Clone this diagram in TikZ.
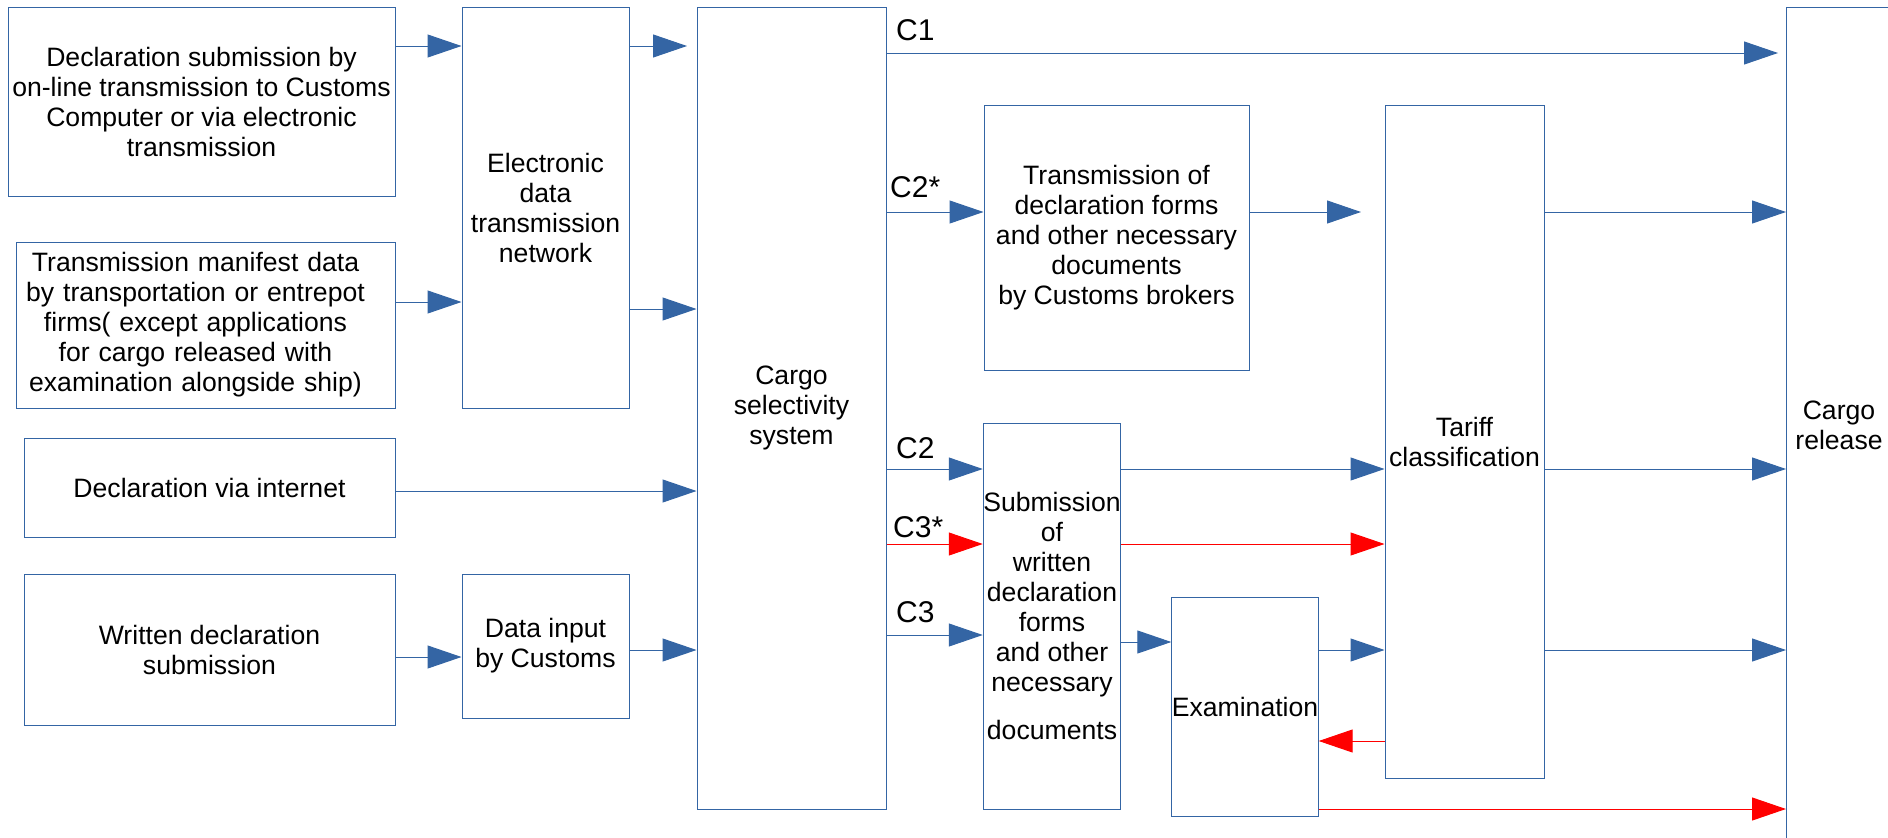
\documentclass[tikz,border=0pt]{standalone}
\usepackage{fontspec}
\setmainfont{Liberation Sans}
\usetikzlibrary{arrows.meta}
\definecolor{lblue}{HTML}{3465A4}
\definecolor{lred}{HTML}{FF0000}
\begin{document}
\begin{tikzpicture}[x=1pt,y=-1pt,
  txt/.style={inner sep=0pt, align=center, font=\fontsize{26.6}{30}\selectfont},
  box/.style={txt, draw=lblue, line width=1pt, rectangle},
  conn/.style={draw=lblue, line width=1pt, -{Triangle[length=34pt,width=23pt]}},
  rconn/.style={draw=lred, line width=1pt, -{Triangle[length=34pt,width=23pt]}},
  lbl/.style={font=\fontsize{30}{34}\selectfont, inner sep=0pt, anchor=west}]
\useasboundingbox (0,0) rectangle (1888,838);
\clip (0,0) rectangle (1888,838);
\fill[white] (0,0) rectangle (1888,838);

\node[box, minimum width=387pt, minimum height=189pt] (b1) at (201.5,101.5)
  {Declaration submission by\\on-line transmission to Customs\\Computer or via electronic\\transmission};
\node[box, minimum width=379pt, minimum height=166pt, text width=359pt, inner xsep=0pt] (b2) at (205.5,325)
  {\hspace*{-20pt}\begin{tabular}{@{}c@{}}Transmission manifest data\\by transportation or entrepot\\firms( except applications\\for cargo released with\\examination alongside ship)\end{tabular}};
\node[box, minimum width=167pt, minimum height=401pt] (edtn) at (545.5,207.5)
  {Electronic\\data\\transmission\\network};
\node[box, minimum width=371pt, minimum height=99pt] (inet) at (209.5,487.5)
  {Declaration via internet};
\node[box, minimum width=371pt, minimum height=151pt] (written) at (209.5,649.5)
  {Written declaration\\submission};
\node[box, minimum width=167pt, minimum height=144pt] (datain) at (545.5,646)
  {Data input\\by Customs};
\node[box, minimum width=189pt, minimum height=802pt] (cargo) at (791.5,408)
  {Cargo\\selectivity\\system};
\node[box, minimum width=265pt, minimum height=265pt] (trans) at (1116.5,237.5)
  {Transmission of\\declaration forms\\and other necessary\\documents\\by Customs brokers};
\node[box, minimum width=136pt, minimum height=386pt] (subm) at (1052,616)
  {Submission\\of\\written\\declaration\\forms\\and other\\necessary\\[18pt]documents};
\node[box, minimum width=144pt, minimum height=219pt] (exam) at (1245,706.5)
  {Examination};
\node[box, minimum width=159pt, minimum height=673pt] (tariff) at (1464.5,441.5)
  {Tariff\\classification};
\node[box, anchor=north west, minimum width=150pt, minimum height=880pt] (release) at (1786,7) {};
\node[txt] (reltext) at (1839,425) {Cargo\\release};

\node[lbl] (lc1) at (896,30) {C1};
\node[lbl] (lc2s) at (890,187) {C2*};
\node[lbl] (lc2) at (896,448) {C2};
\node[lbl] (lc3s) at (893,527) {C3*};
\node[lbl] (lc3) at (896,612) {C3};

\coordinate (edtnend) at (687,46);
\coordinate (c1end) at (1778,53);
\coordinate (transend) at (1361,212);

\draw[conn] (b1.east |- 0,46) -- (edtn.west |- 0,46);
\draw[conn] (b2.east |- 0,302) -- (edtn.west |- 0,302);
\draw[conn] (edtn.east |- 0,46) -- (edtnend);
\draw[conn] (edtn.east |- 0,309) -- (cargo.west |- 0,309);
\draw[conn] (inet.east |- 0,491) -- (cargo.west |- 0,491);
\draw[conn] (written.east |- 0,657) -- (datain.west |- 0,657);
\draw[conn] (datain.east |- 0,650) -- (cargo.west |- 0,650);

\draw[conn] (cargo.east |- 0,53) -- (c1end);
\draw[conn] (cargo.east |- 0,212) -- (trans.west |- 0,212);
\draw[conn] (trans.east |- 0,212) -- (transend);
\draw[conn] (cargo.east |- 0,469) -- (subm.west |- 0,469);
\draw[rconn] (cargo.east |- 0,544) -- (subm.west |- 0,544);
\draw[conn] (cargo.east |- 0,635) -- (subm.west |- 0,635);

\draw[conn] (subm.east |- 0,469) -- (tariff.west |- 0,469);
\draw[rconn] (subm.east |- 0,544) -- (tariff.west |- 0,544);
\draw[conn] (subm.east |- 0,642) -- (exam.west |- 0,642);
\draw[conn] (exam.east |- 0,650) -- (tariff.west |- 0,650);
\draw[rconn] (tariff.west |- 0,741) -- (exam.east |- 0,741);
\draw[rconn] (exam.east |- 0,809) -- (release.west |- 0,809);

\draw[conn] (tariff.east |- 0,212) -- (release.west |- 0,212);
\draw[conn] (tariff.east |- 0,469) -- (release.west |- 0,469);
\draw[conn] (tariff.east |- 0,650) -- (release.west |- 0,650);
\end{tikzpicture}
\end{document}
